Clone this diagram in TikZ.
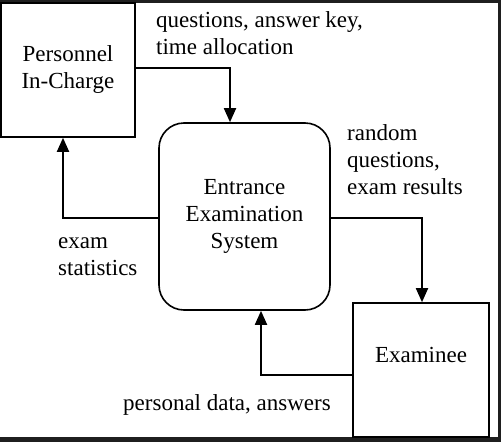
\documentclass[tikz,border=0pt]{standalone}
\usepackage{fontspec}
\setmainfont{Liberation Serif}
\usetikzlibrary{positioning,arrows.meta}

\begin{document}
\begin{tikzpicture}[x=1pt,y=-1pt,
  every node/.style={font=\fontsize{23}{27}\selectfont},
  ent/.style={draw,line width=1.6pt,inner sep=0pt,align=center},
  proc/.style={ent,rounded corners=25pt},
  flow/.style={line width=1.8pt,-{Triangle[length=14pt,width=12pt]}},
  lbl/.style={inner sep=0pt,align=left}]
  \useasboundingbox (0,0) rectangle (501,442);
  \fill[black!88] (0,0) rectangle (501,3);
  \fill[black!88] (498,0) rectangle (501,442);
  \fill[black!88] (0,437) rectangle (501,442);

  \node[ent,minimum width=134pt,minimum height=134pt] (pic) at (68,70) {Personnel\\In-Charge};
  \node[proc,minimum width=171pt,minimum height=187pt] (sys) at (244.5,216.5) {Entrance\\Examination\\System};
  \node[ent,minimum width=136pt,minimum height=134pt,label={[yshift=15pt]center:Examinee}] (exm) at (421,370) {};

  \draw[flow] ([yshift=2pt]pic.east) -| ([xshift=-14.5pt]sys.north);
  \draw[flow] ([yshift=-1.5pt]sys.west) -| ([xshift=-5pt]pic.south);
  \draw[flow] ([yshift=-1.5pt]sys.east) -| ([xshift=1pt]exm.north);
  \draw[flow] ([yshift=-5pt]exm.west) -| ([xshift=16.5pt]sys.south);

  \node[lbl,anchor=north west] (q) at (156,11) {questions, answer key,\\time allocation};
  \node[lbl,anchor=north west] (r) at (347,124) {random\\questions,\\exam results};
  \node[lbl,anchor=north west] (s) at (58,237) {exam\\statistics};
  \node[lbl,anchor=base west] (p) at (123,410) {personal data, answers};
\end{tikzpicture}
\end{document}
